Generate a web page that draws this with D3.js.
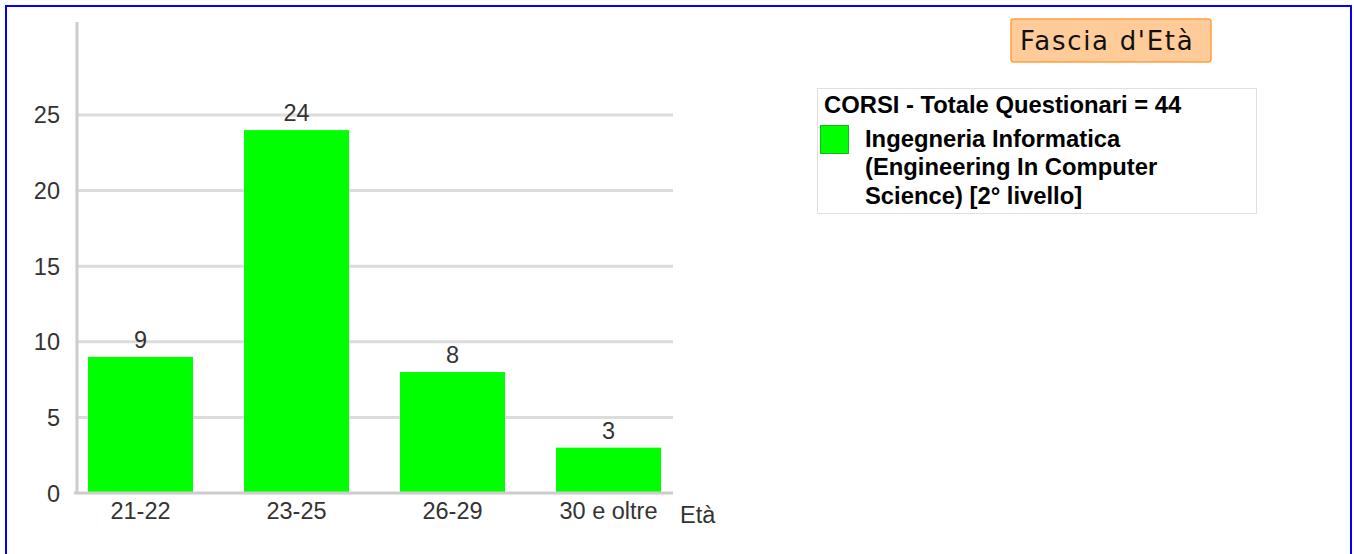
<!DOCTYPE html>
<html>
<head>
<meta charset="utf-8">
<script src="https://cdn.jsdelivr.net/npm/d3@7"></script>
<style>
  body { margin: 0; background: #fff; }
  svg { display: block; font-family: Arial, "Liberation Sans", sans-serif; }
</style>
</head>
<body>
<svg width="1354" height="554"></svg>
<script>
// data
const categories = ["21-22", "23-25", "26-29", "30 e oltre"];
const counts = [9, 24, 8, 3];
const yTicks = [0, 5, 10, 15, 20, 25];
const chartTitle = "Fascia d'Età";
const legendTitle = "CORSI - Totale Questionari = 44";
const seriesName = ["Ingegneria Informatica", "(Engineering In Computer", "Science) [2° livello]"];
const xAxisName = "Età";

const svg = d3.select("svg");

// blue frame round the page
svg.append("rect")
  .attr("x", 6).attr("y", 6)
  .attr("width", 1345).attr("height", 560)
  .attr("fill", "none")
  .attr("stroke", "#0000ff")
  .attr("stroke-width", 2);

const plotLeft = 77, plotRight = 673, plotBase = 493, plotTop = 22;
const labelSize = 23.5;

const y = d3.scaleLinear().domain([0, 31.15]).range([plotBase, plotTop]);
const x = d3.scaleBand()
  .domain(categories)
  .range([62.5, 686.5])
  .paddingInner(51 / 156)
  .paddingOuter(51 / 312);

// grid lines
svg.append("g")
  .selectAll("line")
  .data(yTicks.filter(d => d > 0))
  .join("line")
  .attr("x1", plotLeft).attr("x2", plotRight)
  .attr("y1", d => y(d)).attr("y2", d => y(d))
  .attr("stroke", "#dcdcdc")
  .attr("stroke-width", 3);

// y axis labels
svg.append("g")
  .selectAll("text")
  .data(yTicks)
  .join("text")
  .attr("x", 60)
  .attr("y", d => y(d) + 8.5)
  .attr("text-anchor", "end")
  .attr("font-size", labelSize)
  .attr("fill", "#333")
  .text(d => d);

// bars
svg.append("g")
  .selectAll("rect")
  .data(counts)
  .join("rect")
  .attr("x", (d, i) => x(categories[i]))
  .attr("y", d => y(d))
  .attr("width", x.bandwidth())
  .attr("height", d => plotBase - y(d))
  .attr("fill", "#00ff00");

// value labels
svg.append("g")
  .selectAll("text")
  .data(counts)
  .join("text")
  .attr("x", (d, i) => x(categories[i]) + x.bandwidth() / 2)
  .attr("y", d => y(d) - 9)
  .attr("text-anchor", "middle")
  .attr("font-size", labelSize)
  .attr("fill", "#333")
  .text(d => d);

// axis lines
svg.append("line")
  .attr("x1", plotLeft).attr("x2", plotLeft)
  .attr("y1", plotTop).attr("y2", plotBase + 1)
  .attr("stroke", "#cccccc").attr("stroke-width", 3);
svg.append("line")
  .attr("x1", plotLeft - 3).attr("x2", plotRight)
  .attr("y1", plotBase).attr("y2", plotBase)
  .attr("stroke", "#cccccc").attr("stroke-width", 3);

// category labels
svg.append("g")
  .selectAll("text")
  .data(categories)
  .join("text")
  .attr("x", d => x(d) + x.bandwidth() / 2)
  .attr("y", 519)
  .attr("text-anchor", "middle")
  .attr("font-size", labelSize)
  .attr("fill", "#333")
  .text(d => d);

svg.append("text")
  .attr("x", 680).attr("y", 523)
  .attr("font-size", labelSize)
  .attr("fill", "#333")
  .text(xAxisName);

// title box
svg.append("rect")
  .attr("x", 1011).attr("y", 19)
  .attr("width", 200).attr("height", 43)
  .attr("rx", 3)
  .attr("fill", "#ffcc99")
  .attr("stroke", "#ff9f40")
  .attr("stroke-width", 1.5);
svg.append("text")
  .attr("x", 1020).attr("y", 49.5)
  .attr("font-family", "'DejaVu Sans', Verdana, sans-serif")
  .attr("font-size", 26)
  .attr("letter-spacing", 1.7)
  .attr("fill", "#111")
  .text(chartTitle);

// legend
const lg = svg.append("g");
lg.append("rect")
  .attr("x", 817.5).attr("y", 88.5)
  .attr("width", 439).attr("height", 125)
  .attr("fill", "#fff")
  .attr("stroke", "#e0e0e0");
lg.append("text")
  .attr("x", 824).attr("y", 113)
  .attr("font-size", 23.8)
  .attr("font-weight", "bold")
  .attr("fill", "#000")
  .text(legendTitle);
lg.append("rect")
  .attr("x", 820.5).attr("y", 125.5)
  .attr("width", 28).attr("height", 28)
  .attr("fill", "#00ff00")
  .attr("stroke", "#11bb11");
lg.append("g")
  .selectAll("text")
  .data(seriesName)
  .join("text")
  .attr("x", 865)
  .attr("y", (d, i) => 147 + i * 28.3)
  .attr("font-size", 23.8)
  .attr("font-weight", "bold")
  .attr("fill", "#000")
  .text(d => d);
</script>
</body>
</html>
